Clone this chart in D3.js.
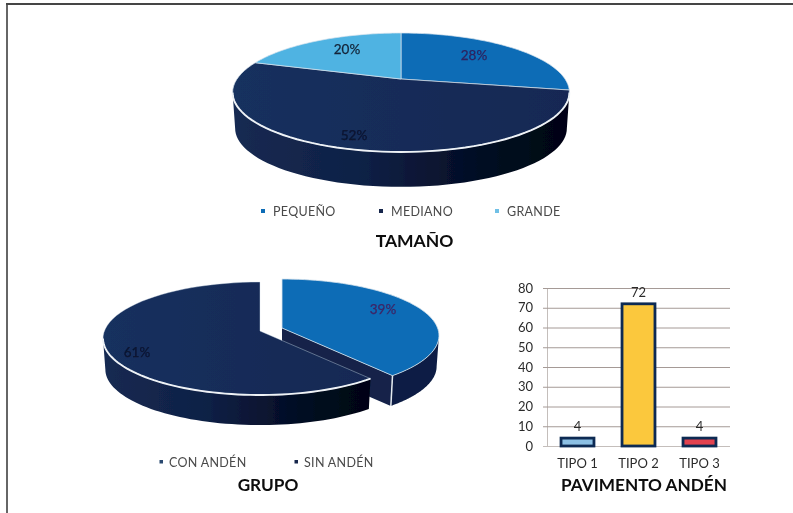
<!DOCTYPE html>
<html><head><meta charset="utf-8">
<script src="https://cdn.jsdelivr.net/npm/d3@7"></script>
<style>html,body{margin:0;padding:0;background:#fff}svg{display:block}text{font-family:Lato,sans-serif}</style>
</head><body><svg id="c" width="793" height="513"></svg>
<script>
const sizeLabels = ["PEQUEÑO", "MEDIANO", "GRANDE"];
const sizeValues = [28, 52, 20];
const groupLabels = ["CON ANDÉN", "SIN ANDÉN"];
const groupValues = [39, 61];
const pavementLabels = ["TIPO 1", "TIPO 2", "TIPO 3"];
const pavementValues = [4, 72, 4];
const yTicks = [0, 10, 20, 30, 40, 50, 60, 70, 80];

const svg = d3.select("#c");
const defs = svg.append("defs");
const f = defs.append("filter").attr("id","soft").attr("x",0).attr("y",0).attr("width",1).attr("height",1);
f.append("feGaussianBlur").attr("stdDeviation",0.65);
function grad(id, stops){
  const g = defs.append("linearGradient").attr("id",id);
  stops.forEach(([o,c])=>g.append("stop").attr("offset",o).attr("stop-color",c));
}
grad("sideG",[[0,"#152a52"],[0.4,"#0f2045"],[0.75,"#030b22"],[1,"#010512"]]);
grad("topG",[[0,"#17305e"],[1,"#132853"]]);
const root = svg.append("g").attr("filter","url(#soft)");

root.append("rect").attr("width",793).attr("height",513).attr("fill","#fff");
root.append("path").attr("d","M7,513V4").attr("fill","none").attr("stroke","#666").attr("stroke-width",2);
root.append("path").attr("d","M6,4H793").attr("fill","none").attr("stroke","#444").attr("stroke-width",1.8);

const TAU = 2*Math.PI;
function projector(p){
  return (a, low=false)=>{
    const u=Math.sin(a), v=-Math.cos(a), w=1-p.k*v;
    const s=low?p.shrink:1;
    return [p.cx+p.B*s*u/w, p.cy+p.A*s*v/w+(low?p.depth:0)];
  };
}
const line = d3.line();
function angleSpan(a0,a1){ return d3.range(0,61).map(i=>a0+(a1-a0)*i/60); }
function topPath(pr,d){
  return line([[pr.c[0],pr.c[1]],...angleSpan(d.startAngle,d.endAngle).map(a=>pr(a))])+"Z";
}
function drawSide(g,pr,p,d,fill){
  const lim=Math.PI/2+Math.asin(p.k);
  const a0=Math.max(d.startAngle,lim), a1=Math.min(d.endAngle,TAU-lim);
  if(a1<=a0) return;
  const ang=angleSpan(a0,a1);
  g.append("path").attr("d",line([...ang.map(a=>pr(a)),...ang.slice().reverse().map(a=>pr(a,true))])+"Z").attr("fill",fill);
}
function drawRim(g,pr,p,d){
  const lim=Math.PI/2+Math.asin(p.k);
  const a0=Math.max(d.startAngle,lim), a1=Math.min(d.endAngle,TAU-lim);
  if(a1<=a0) return;
  g.append("path").attr("d",line(angleSpan(a0,a1).map(a=>pr(a)))).attr("fill","none").attr("stroke","#eef2f6").attr("stroke-width",1.9);
}
const pie = d3.pie().sort(null).startAngle(0).endAngle(TAU);

// TAMAÑO
{
  const p={cx:401,cy:79,A:56.4,B:164,k:0.227,depth:36,shrink:0.985};
  const pr=projector(p); pr.c=[p.cx,p.cy];
  const colors=["#0c6cb6","url(#topG)","#4fb3e2"];
  const arcs=pie(sizeValues);
  const g=root.append("g");
  drawSide(g,pr,p,arcs[1],"url(#sideG)");
  arcs.forEach((d,i)=>g.append("path").attr("d",topPath(pr,d)).attr("fill",colors[i]).attr("stroke","#d9e4ee").attr("stroke-width",0.7));
  drawRim(g,pr,p,arcs[1]);
  const lab=[[474,60,"#2e2360"],[354,140,"#081430"],[347,54,"#142438"]];
  arcs.forEach((d,i)=>g.append("text").attr("x",lab[i][0]).attr("y",lab[i][1]).attr("text-anchor","middle").attr("font-size",13.5).attr("fill",lab[i][2]).attr("stroke",lab[i][2]).attr("stroke-width",0.25).text(sizeValues[i]+"%"));
  const lx=[263,381,497], lc=["#0c6cb6","#14264c","#6fc0e6"];
  sizeLabels.forEach((t,i)=>{
    root.append("rect").attr("x",lx[i]-2).attr("y",209).attr("width",4).attr("height",4).attr("fill",lc[i]);
    root.append("text").attr("x",lx[i]+10).attr("y",216).attr("font-size",12.5).attr("fill","#4a4a4a").attr("letter-spacing",0.3).text(t);
  });
  root.append("text").attr("x",414.5).attr("y",246.5).attr("text-anchor","middle").attr("font-size",17.5).attr("font-weight",700).attr("fill","#0c0c0c").text("TAMAÑO");
}

// GRUPO
{
  const pN={cx:260,cy:331,A:55.5,B:155.6,k:0.133,depth:31,shrink:0.985};
  const pB={...pN,cx:282,cy:328};
  const prN=projector(pN), prB=projector(pB);
  prN.c=[pN.cx,pN.cy]; prB.c=[pB.cx,pB.cy];
  const arcs=pie(groupValues);
  const g=root.append("g");
  const blue=arcs[0], navy=arcs[1];
  const tip=prB(blue.endAngle), tipL=prB(blue.endAngle,true);
  g.append("path").attr("d",line([prB.c,tip,tipL,[prB.c[0],prB.c[1]+pB.depth]])+"Z").attr("fill","#12234a");
  drawSide(g,prB,pB,blue,"#0f1f44");
  g.append("path").attr("d",topPath(prB,blue)).attr("fill","#0c6cb6").attr("stroke","#d9e4ee").attr("stroke-width",0.8);
  g.append("path").attr("d",line([tip,tipL])).attr("stroke","#e4eaf0").attr("stroke-width",1.5);
  drawSide(g,prN,pN,navy,"url(#sideG)");
  g.append("path").attr("d",topPath(prN,navy)).attr("fill","url(#topG)").attr("stroke","#d9e4ee").attr("stroke-width",0.4);
  drawRim(g,prN,pN,navy);
  g.append("text").attr("x",383).attr("y",314).attr("text-anchor","middle").attr("font-size",13.5).attr("fill","#3e2566").attr("stroke","#3e2566").attr("stroke-width",0.25).text(groupValues[0]+"%");
  g.append("text").attr("x",137).attr("y",357).attr("text-anchor","middle").attr("font-size",13.5).attr("fill","#081430").attr("stroke","#081430").attr("stroke-width",0.25).text(groupValues[1]+"%");
  const lx=[161,296];
  groupLabels.forEach((t,i)=>{
    root.append("rect").attr("x",lx[i]-1.5).attr("y",460).attr("width",3.5).attr("height",3.5).attr("fill",i?"#14264c":"#2a4a70");
    root.append("text").attr("x",lx[i]+8).attr("y",466.5).attr("font-size",12.5).attr("fill","#4a4a4a").attr("letter-spacing",0.3).text(t);
  });
  root.append("text").attr("x",268).attr("y",490.5).attr("text-anchor","middle").attr("font-size",17.2).attr("font-weight",700).attr("fill","#0c0c0c").text("GRUPO");
}

// PAVIMENTO ANDÉN
{
  const x=d3.scaleBand().domain(pavementLabels).range([547,730]).paddingInner(0.46).paddingOuter(0.23);
  const y=d3.scaleLinear().domain([0,80]).range([446,288]);
  const g=root.append("g");
  const ay=d3.axisLeft(y).tickValues(yTicks).tickSize(0).tickPadding(14);
  const gy=g.append("g").attr("transform","translate(547,0)").call(ay);
  gy.select(".domain").attr("stroke","#c4bebb");
  gy.selectAll("text").attr("font-size",13).attr("font-family","Lato,sans-serif").attr("fill","#2c2c2c");
  g.append("g").selectAll("line").data(yTicks).join("line")
    .attr("x1",543).attr("x2",730).attr("y1",d=>y(d)+.5).attr("y2",d=>y(d)+.5)
    .attr("stroke",d=>d===0?"#c4bebb":"#a59a96").attr("stroke-width",1);
  const ax=d3.axisBottom(x).tickSize(0).tickPadding(13);
  const gx=g.append("g").attr("transform","translate(0,446)").call(ax);
  gx.select(".domain").remove();
  gx.selectAll("text").attr("font-size",13).attr("font-family","Lato,sans-serif").attr("fill","#2c2c2c");
  const barColors=["#8cc0e4","#fbc83e","#e2424f"];
  g.selectAll("rect.b").data(pavementValues).join("rect").attr("class","b")
    .attr("x",(d,i)=>x(pavementLabels[i])).attr("width",x.bandwidth())
    .attr("y",d=>y(d)).attr("height",d=>y(0)-y(d))
    .attr("fill",(d,i)=>barColors[i]).attr("stroke","#0f2b52").attr("stroke-width",2.8);
  g.selectAll("text.v").data(pavementValues).join("text").attr("class","v")
    .attr("x",(d,i)=>x(pavementLabels[i])+x.bandwidth()/2).attr("y",d=>y(d)-7)
    .attr("text-anchor","middle").attr("font-size",13).attr("fill","#2c2c2c").text(d=>d);
  root.append("text").attr("x",644).attr("y",491).attr("text-anchor","middle").attr("font-size",17.2).attr("font-weight",700).attr("fill","#0c0c0c").text("PAVIMENTO ANDÉN");
}
</script></body></html>
